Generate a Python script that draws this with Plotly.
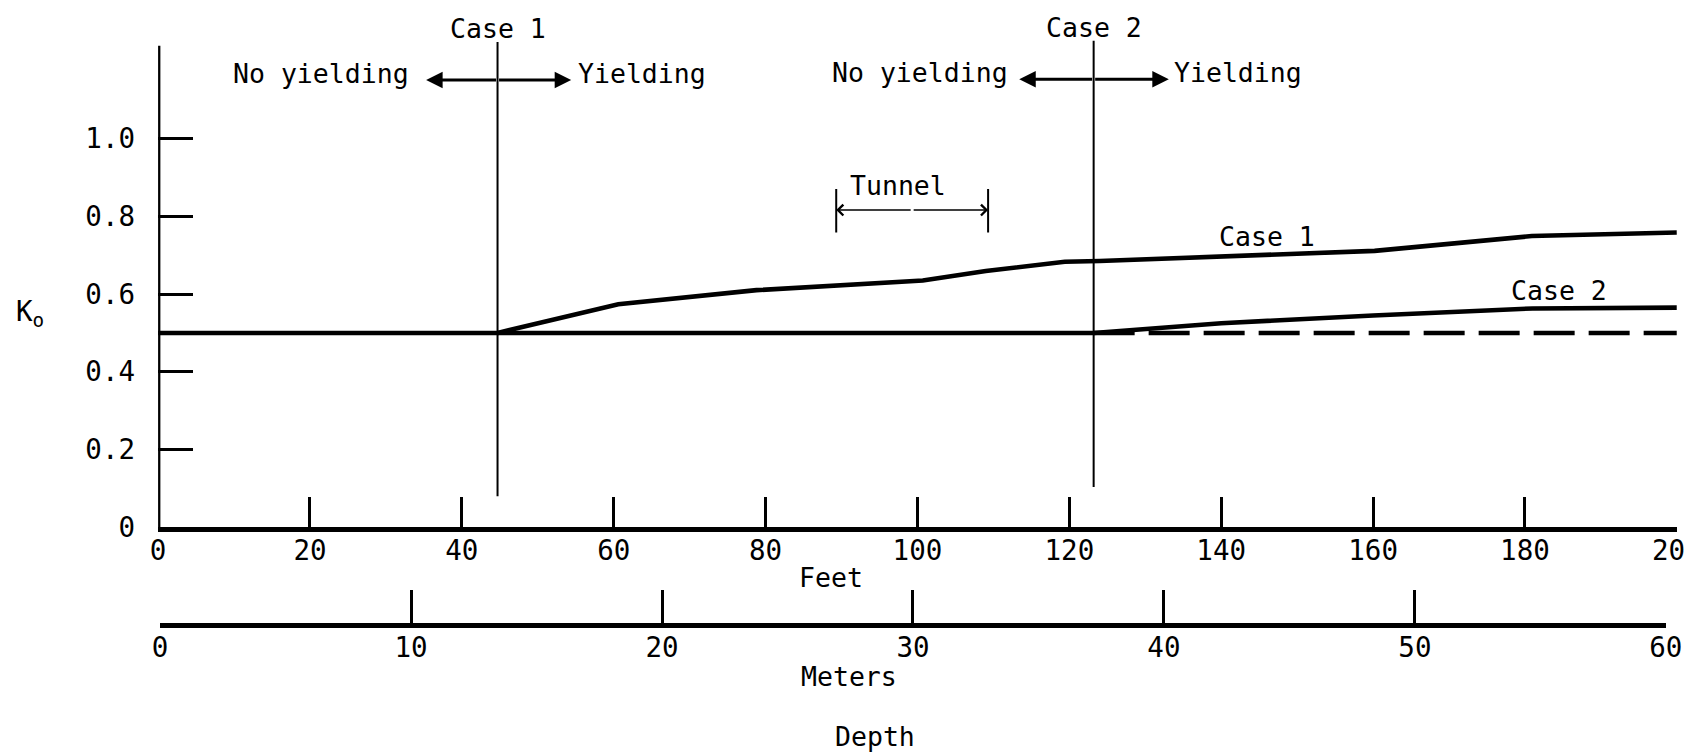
import plotly.graph_objects as go

# ---------------- data ----------------
feet_ticks = [0, 20, 40, 60, 80, 100, 120, 140, 160, 180, 200]
meter_ticks = [0, 10, 20, 30, 40, 50, 60]
k_ticks = [0, 0.2, 0.4, 0.6, 0.8, 1.0]
k_ticktext = ["0", "0.2", "0.4", "0.6", "0.8", "1.0"]

base_x = [0, 123.2]
base_k = [0.5, 0.5]

case1_x = [44.7, 60.6, 78.8, 100.7, 109.0, 119.4, 124.0, 160.2, 180.9, 200]
case1_k = [0.5, 0.574, 0.610, 0.635, 0.659, 0.683, 0.685, 0.711, 0.749, 0.758]

case2_x = [123.2, 140, 160, 181, 200]
case2_k = [0.5, 0.525, 0.545, 0.563, 0.565]

noyield_x = [123.2, 200]
noyield_k = [0.5, 0.5]

case_line_x = [44.7, 123.2]          # yield boundaries (feet)
case_line_bottom = [0.08, 0.104]
case_line_top = [1.248, 1.251]
case_names = ["Case 1", "Case 2"]

tunnel_x = [89.3, 109.3]
tunnel_k_bar = [0.758, 0.870]
tunnel_k_arrow = 0.816

yaxis_top = 1.238
FONT = "DejaVu Sans Mono"

# ---------------- geometry ----------------
# target positions in the 1693x754 picture, mapped to figure pixels
OFF = 8
W, H = 1712, 762
AX, BX = 1.0195, -8.2
AY, BY = 1.0223, -1.18
K = 1.02  # size compensation

x0_px, x200_px = 158, 1677
y0_px = 528
px_per_unit = 388.7
m0_px, m60_px = 160, 1666
m_axis_px = 623


def fx(px):
    return (AX * px + BX - OFF) / W


def fy(py):
    return 1 - (AY * py + BY - OFF) / H


FS = 26 * K
LW = 4.5 * K

fig = go.Figure()

line_style = dict(color="black", width=LW)

fig.add_trace(go.Scatter(x=[0, 0], y=[0, yaxis_top], mode="lines",
                         line=dict(color="black", width=LW), hoverinfo="skip"))
fig.add_trace(go.Scatter(x=base_x, y=base_k, mode="lines", line=line_style, hoverinfo="skip"))
fig.add_trace(go.Scatter(x=case1_x, y=case1_k, mode="lines", line=line_style, hoverinfo="skip"))
fig.add_trace(go.Scatter(x=case2_x, y=case2_k, mode="lines", line=line_style, hoverinfo="skip"))
fig.add_trace(go.Scatter(x=noyield_x, y=noyield_k, mode="lines",
                         line=dict(color="black", width=LW, dash="41px,14px"), hoverinfo="skip"))
for cx, yb, yt in zip(case_line_x, case_line_bottom, case_line_top):
    fig.add_trace(go.Scatter(x=[cx, cx], y=[yb, yt], mode="lines",
                             line=dict(color="black", width=2), hoverinfo="skip"))
for tx in tunnel_x:
    fig.add_trace(go.Scatter(x=[tx, tx], y=tunnel_k_bar, mode="lines",
                             line=dict(color="black", width=2), hoverinfo="skip"))

fig.add_trace(go.Scatter(x=[0, 60], y=[0, 0], xaxis="x2", yaxis="y2", mode="lines",
                         line=dict(color="rgba(0,0,0,0)", width=0), hoverinfo="skip"))

ann = []
font = dict(family=FONT, size=FS, color="black")

for cx, name, ky in zip(case_line_x, case_names, [1.282, 1.285]):
    ann.append(dict(x=cx, y=ky, xref="x", yref="y", text=name, showarrow=False,
                    font=font, xanchor="center", yanchor="middle"))

arrow_specs = [
    (44.7, 35.3, 54.4, 1.150, 33.3, 55.0, 1.167),
    (123.2, 113.4, 133.1, 1.152, 112.2, 133.5, 1.169),
]
for cx, left, right, ka, ntext_r, ytext_l, kt in arrow_specs:
    for end in (left, right):
        ann.append(dict(x=end, y=ka, ax=cx, ay=ka, xref="x", yref="y", axref="x", ayref="y",
                        text="", showarrow=True, arrowhead=2, arrowsize=1.1,
                        arrowwidth=3, arrowcolor="black", standoff=0, startstandoff=0))
    ann.append(dict(x=ntext_r, y=kt, xref="x", yref="y", text="No yielding", showarrow=False,
                    font=font, xanchor="right", yanchor="middle"))
    ann.append(dict(x=ytext_l, y=kt, xref="x", yref="y", text="Yielding", showarrow=False,
                    font=font, xanchor="left", yanchor="middle"))

tmid = (tunnel_x[0] + tunnel_x[1]) / 2
for end in tunnel_x:
    ann.append(dict(x=end, y=tunnel_k_arrow, ax=tmid, ay=tunnel_k_arrow, xref="x", yref="y",
                    axref="x", ayref="y", text="", showarrow=True, arrowhead=4, arrowsize=1.4,
                    arrowwidth=1.5, arrowcolor="black", standoff=0, startstandoff=0))
ann.append(dict(x=90.9, y=0.880, xref="x", yref="y", text="Tunnel", showarrow=False,
                font=font, xanchor="left", yanchor="middle"))

ann.append(dict(x=146.0, y=0.748, xref="x", yref="y", text="Case 1", showarrow=False,
                font=font, xanchor="center", yanchor="middle"))
ann.append(dict(x=184.5, y=0.608, xref="x", yref="y", text="Case 2", showarrow=False,
                font=font, xanchor="center", yanchor="middle"))

for txt, px, py in [("Feet", 831, 578), ("Meters", 849, 677), ("Depth", 875, 737)]:
    ann.append(dict(x=fx(px), y=fy(py), xref="paper", yref="paper", text=txt, showarrow=False,
                    font=font, xanchor="center", yanchor="middle"))
ann.append(dict(x=fx(30), y=fy(314), xref="paper", yref="paper", text="K<sub>o</sub>",
                showarrow=False, font=dict(family=FONT, size=27 * K, color="black"),
                xanchor="center", yanchor="middle"))

tickfont = dict(family=FONT, size=27 * K, color="black")

top_target = (OFF - BY) / AY
top_val = (y0_px - top_target) / px_per_unit

fig.update_layout(
    width=W, height=H, autosize=False,
    margin=dict(l=0, r=0, t=0, b=0, pad=0),
    paper_bgcolor="white", plot_bgcolor="white",
    showlegend=False,
    annotations=ann,
    xaxis=dict(domain=[fx(x0_px), fx(x200_px)], range=[0, 200], anchor="y",
               showgrid=False, zeroline=False, showline=True, linecolor="black", linewidth=LW,
               ticks="inside", ticklen=30 * K, tickwidth=2.5, tickcolor="black",
               tickvals=feet_ticks, ticktext=[str(v) for v in feet_ticks],
               tickfont=tickfont, ticklabelstandoff=-5, ticklabeloverflow="allow"),
    yaxis=dict(domain=[fy(y0_px), 1], range=[0, top_val], anchor="x",
               showgrid=False, zeroline=False, showline=False,
               ticks="inside", ticklen=34 * K, tickwidth=3, tickcolor="black",
               tickvals=k_ticks, ticktext=k_ticktext, tickfont=tickfont, ticklabelstandoff=22),
    xaxis2=dict(domain=[fx(m0_px), fx(m60_px)], range=[0, 60], anchor="y2",
                showgrid=False, zeroline=False, showline=True, linecolor="black", linewidth=LW,
                ticks="inside", ticklen=32 * K, tickwidth=2.5, tickcolor="black",
                tickvals=meter_ticks, ticktext=[str(v) for v in meter_ticks],
                tickfont=tickfont, ticklabelstandoff=-3, ticklabeloverflow="allow"),
    yaxis2=dict(domain=[fy(m_axis_px), fy(m_axis_px - 40)], range=[0, 1], anchor="x2",
                visible=False),
)

fig.write_html("out.html", config={"displayModeBar": False})
